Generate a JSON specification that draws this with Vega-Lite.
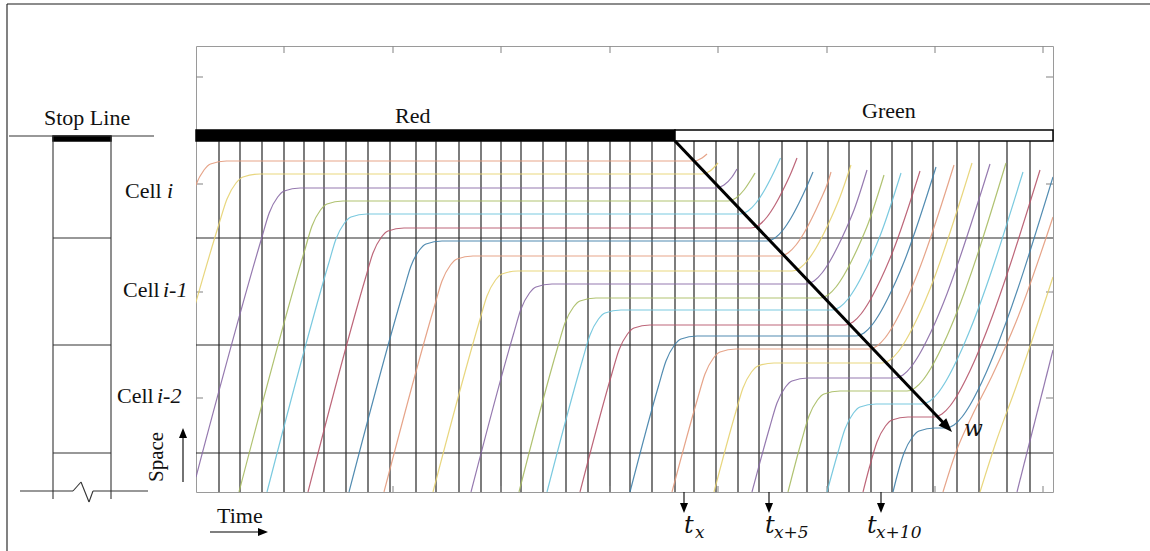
{
"$schema": "https://vega.github.io/schema/vega-lite/v6.json",
"width": 857, "height": 446,
"autosize": {"type": "none"},
"padding": {"left": 196, "top": 46, "right": 97, "bottom": 59},
"background": "white",
"config": {"view": {"stroke": "#9a9a9a", "strokeWidth": 1}},
"datasets": {
"bars": [
{"x": 0, "x2": 47.9, "y": 35.1, "y2": 36.2, "k": "red"},
{"x": 47.9, "x2": 85.7, "y": 35.1, "y2": 36.2, "k": "green"},
{"x": -14.3, "x2": -8.5, "y": 35.1, "y2": 35.6, "k": "stop"}
],
"segs": [
{"x":2.3,"x2":2.3,"y":0,"y2":35.1,"k":"v"},{"x":4.4,"x2":4.4,"y":0,"y2":35.1,"k":"v"},{"x":6.6,"x2":6.6,"y":0,"y2":35.1,"k":"v"},{"x":8.8,"x2":8.8,"y":0,"y2":35.1,"k":"v"},{"x":10.8,"x2":10.8,"y":0,"y2":35.1,"k":"v"},{"x":12.8,"x2":12.8,"y":0,"y2":35.1,"k":"v"},{"x":15.0,"x2":15.0,"y":0,"y2":35.1,"k":"v"},{"x":17.2,"x2":17.2,"y":0,"y2":35.1,"k":"v"},{"x":19.4,"x2":19.4,"y":0,"y2":35.1,"k":"v"},{"x":22.0,"x2":22.0,"y":0,"y2":35.1,"k":"v"},{"x":24.0,"x2":24.0,"y":0,"y2":35.1,"k":"v"},{"x":26.3,"x2":26.3,"y":0,"y2":35.1,"k":"v"},{"x":28.5,"x2":28.5,"y":0,"y2":35.1,"k":"v"},{"x":30.5,"x2":30.5,"y":0,"y2":35.1,"k":"v"},{"x":32.5,"x2":32.5,"y":0,"y2":35.1,"k":"v"},{"x":34.7,"x2":34.7,"y":0,"y2":35.1,"k":"v"},{"x":37.0,"x2":37.0,"y":0,"y2":35.1,"k":"v"},{"x":39.2,"x2":39.2,"y":0,"y2":35.1,"k":"v"},{"x":41.4,"x2":41.4,"y":0,"y2":35.1,"k":"v"},{"x":43.4,"x2":43.4,"y":0,"y2":35.1,"k":"v"},{"x":45.6,"x2":45.6,"y":0,"y2":35.1,"k":"v"},{"x":47.9,"x2":47.9,"y":0,"y2":35.1,"k":"v"},{"x":49.8,"x2":49.8,"y":0,"y2":35.1,"k":"v"},{"x":52.0,"x2":52.0,"y":0,"y2":35.1,"k":"v"},{"x":54.2,"x2":54.2,"y":0,"y2":35.1,"k":"v"},{"x":56.3,"x2":56.3,"y":0,"y2":35.1,"k":"v"},{"x":58.6,"x2":58.6,"y":0,"y2":35.1,"k":"v"},{"x":61.1,"x2":61.1,"y":0,"y2":35.1,"k":"v"},{"x":63.2,"x2":63.2,"y":0,"y2":35.1,"k":"v"},{"x":65.3,"x2":65.3,"y":0,"y2":35.1,"k":"v"},{"x":67.5,"x2":67.5,"y":0,"y2":35.1,"k":"v"},{"x":69.6,"x2":69.6,"y":0,"y2":35.1,"k":"v"},{"x":71.6,"x2":71.6,"y":0,"y2":35.1,"k":"v"},{"x":73.7,"x2":73.7,"y":0,"y2":35.1,"k":"v"},{"x":76.1,"x2":76.1,"y":0,"y2":35.1,"k":"v"},{"x":78.3,"x2":78.3,"y":0,"y2":35.1,"k":"v"},{"x":81.1,"x2":81.1,"y":0,"y2":35.1,"k":"v"},{"x":83.4,"x2":83.4,"y":0,"y2":35.1,"k":"v"},
{"x":0,"x2":85.7,"y":3.9,"y2":3.9,"k":"h"},{"x":0,"x2":85.7,"y":14.7,"y2":14.7,"k":"h"},{"x":0,"x2":85.7,"y":25.4,"y2":25.4,"k":"h"},
{"x":8.8,"x2":8.8,"y":44.6,"y2":43.9,"k":"tick"},{"x":19.7,"x2":19.7,"y":44.6,"y2":43.9,"k":"tick"},{"x":30.5,"x2":30.5,"y":44.6,"y2":43.9,"k":"tick"},{"x":41.4,"x2":41.4,"y":44.6,"y2":43.9,"k":"tick"},{"x":52.2,"x2":52.2,"y":44.6,"y2":43.9,"k":"tick"},{"x":63.1,"x2":63.1,"y":44.6,"y2":43.9,"k":"tick"},{"x":73.9,"x2":73.9,"y":44.6,"y2":43.9,"k":"tick"},{"x":84.7,"x2":84.7,"y":44.6,"y2":43.9,"k":"tick"},
{"x":19.7,"x2":19.7,"y":0,"y2":0.6,"k":"tick"},{"x":30.5,"x2":30.5,"y":0,"y2":0.6,"k":"tick"},{"x":41.4,"x2":41.4,"y":0,"y2":0.6,"k":"tick"},{"x":52.2,"x2":52.2,"y":0,"y2":0.6,"k":"tick"},{"x":63.1,"x2":63.1,"y":0,"y2":0.6,"k":"tick"},{"x":73.9,"x2":73.9,"y":0,"y2":0.6,"k":"tick"},{"x":84.7,"x2":84.7,"y":0,"y2":0.6,"k":"tick"},
{"x":0,"x2":0.7,"y":41.5,"y2":41.5,"k":"tick"},{"x":0,"x2":0.7,"y":30.8,"y2":30.8,"k":"tick"},{"x":0,"x2":0.7,"y":20.0,"y2":20.0,"k":"tick"},{"x":0,"x2":0.7,"y":9.4,"y2":9.4,"k":"tick"},
{"x":85.0,"x2":85.7,"y":41.5,"y2":41.5,"k":"tick"},{"x":85.0,"x2":85.7,"y":30.8,"y2":30.8,"k":"tick"},{"x":85.0,"x2":85.7,"y":20.0,"y2":20.0,"k":"tick"},{"x":85.0,"x2":85.7,"y":9.4,"y2":9.4,"k":"tick"},
{"x":-18.7,"x2":-4.2,"y":35.6,"y2":35.6,"k":"diag"},
{"x":-14.3,"x2":-14.3,"y":35.6,"y2":-0.7,"k":"diag"},{"x":-8.5,"x2":-8.5,"y":35.6,"y2":-0.7,"k":"diag"},
{"x":-14.3,"x2":-8.5,"y":25.4,"y2":25.4,"k":"diag"},{"x":-14.3,"x2":-8.5,"y":14.7,"y2":14.7,"k":"diag"},{"x":-14.3,"x2":-8.5,"y":3.9,"y2":3.9,"k":"diag"},
{"x":-17.6,"x2":-12.3,"y":0.1,"y2":0.1,"k":"diag"},{"x":-12.3,"x2":-11.5,"y":0.1,"y2":1.0,"k":"diag"},{"x":-11.5,"x2":-10.7,"y":1.0,"y2":-1.0,"k":"diag"},{"x":-10.7,"x2":-10.3,"y":-1.0,"y2":0.1,"k":"diag"},{"x":-10.3,"x2":-4.8,"y":0.1,"y2":0.1,"k":"diag"},
{"x":-18.9,"x2":95.4,"y":48.8,"y2":48.8,"k":"frame"},{"x":-18.9,"x2":-18.9,"y":48.8,"y2":-5.9,"k":"frame"},
{"x":48.8,"x2":48.8,"y":0,"y2":-1.2,"k":"arrow"},{"x":57.3,"x2":57.3,"y":0,"y2":-1.2,"k":"arrow"},{"x":68.5,"x2":68.5,"y":0,"y2":-1.2,"k":"arrow"},
{"x":1.4,"x2":6.4,"y":-4.0,"y2":-4.0,"k":"arrow"},{"x":-1.3,"x2":-1.3,"y":1.0,"y2":5.6,"k":"arrow"},
{"x":47.9,"x2":74.9,"y":35.1,"y2":6.75,"k":"wave"}
],
"traj": [
{"v":0,"c":"orange","t":-1.5,"s":25.5},{"v":0,"c":"orange","t":-0.8,"s":28.1},{"v":0,"c":"orange","t":-0.05,"s":30.6},{"v":0,"c":"orange","t":0.8,"s":32.2},{"v":0,"c":"orange","t":1.45,"s":32.8},{"v":0,"c":"orange","t":3.05,"s":33.1},{"v":0,"c":"orange","t":49.8,"s":33.1},{"v":0,"c":"orange","t":50.6,"s":33.4},{"v":0,"c":"orange","t":51.1,"s":33.8},
{"v":1,"c":"yellow","t":-0.6,"s":16.9},{"v":1,"c":"yellow","t":2.3,"s":26.8},{"v":1,"c":"yellow","t":3.1,"s":29.3},{"v":1,"c":"yellow","t":4.0,"s":30.9},{"v":1,"c":"yellow","t":4.7,"s":31.5},{"v":1,"c":"yellow","t":6.4,"s":31.8},{"v":1,"c":"yellow","t":50.6,"s":31.8},{"v":1,"c":"yellow","t":51.4,"s":32.1},{"v":1,"c":"yellow","t":52.2,"s":32.9},
{"v":2,"c":"purple","t":0,"s":1.5},{"v":2,"c":"purple","t":6.57,"s":25.4},{"v":2,"c":"purple","t":7.32,"s":27.9},{"v":2,"c":"purple","t":8.17,"s":29.5},{"v":2,"c":"purple","t":8.82,"s":30.1},{"v":2,"c":"purple","t":10.42,"s":30.4},{"v":2,"c":"purple","t":52.0,"s":30.4},{"v":2,"c":"purple","t":52.8,"s":30.7},{"v":2,"c":"purple","t":53.6,"s":31.5},{"v":2,"c":"purple","t":54.1,"s":32.3},
{"v":3,"c":"olive","t":4.3,"s":0},{"v":3,"c":"olive","t":10.85,"s":24.1},{"v":3,"c":"olive","t":11.6,"s":26.6},{"v":3,"c":"olive","t":12.45,"s":28.2},{"v":3,"c":"olive","t":13.1,"s":28.8},{"v":3,"c":"olive","t":14.7,"s":29.1},{"v":3,"c":"olive","t":53.2,"s":29.1},{"v":3,"c":"olive","t":54.0,"s":29.4},{"v":3,"c":"olive","t":54.8,"s":30.2},{"v":3,"c":"olive","t":55.6,"s":31.4},{"v":3,"c":"olive","t":55.9,"s":31.9},
{"v":4,"c":"cyan","t":7.1,"s":0},{"v":4,"c":"cyan","t":13.25,"s":22.8},{"v":4,"c":"cyan","t":14.0,"s":25.3},{"v":4,"c":"cyan","t":14.85,"s":26.9},{"v":4,"c":"cyan","t":15.5,"s":27.5},{"v":4,"c":"cyan","t":17.1,"s":27.8},{"v":4,"c":"cyan","t":54.4,"s":27.8},{"v":4,"c":"cyan","t":55.2,"s":28.1},{"v":4,"c":"cyan","t":56.0,"s":28.9},{"v":4,"c":"cyan","t":56.8,"s":30.1},{"v":4,"c":"cyan","t":57.6,"s":31.6},{"v":4,"c":"cyan","t":58.45,"s":33.4},
{"v":5,"c":"red","t":11.2,"s":0},{"v":5,"c":"red","t":16.95,"s":21.4},{"v":5,"c":"red","t":17.7,"s":23.9},{"v":5,"c":"red","t":18.55,"s":25.5},{"v":5,"c":"red","t":19.2,"s":26.1},{"v":5,"c":"red","t":20.8,"s":26.4},{"v":5,"c":"red","t":55.5,"s":26.4},{"v":5,"c":"red","t":56.3,"s":26.7},{"v":5,"c":"red","t":57.1,"s":27.5},{"v":5,"c":"red","t":57.9,"s":28.7},{"v":5,"c":"red","t":58.7,"s":30.2},{"v":5,"c":"red","t":59.5,"s":31.9},{"v":5,"c":"red","t":60.1,"s":33.4},
{"v":6,"c":"blue","t":15.3,"s":0},{"v":6,"c":"blue","t":20.75,"s":20.1},{"v":6,"c":"blue","t":21.5,"s":22.6},{"v":6,"c":"blue","t":22.35,"s":24.2},{"v":6,"c":"blue","t":23.0,"s":24.8},{"v":6,"c":"blue","t":24.6,"s":25.1},{"v":6,"c":"blue","t":57.1,"s":25.1},{"v":6,"c":"blue","t":57.9,"s":25.4},{"v":6,"c":"blue","t":58.7,"s":26.2},{"v":6,"c":"blue","t":59.5,"s":27.4},{"v":6,"c":"blue","t":60.3,"s":28.9},{"v":6,"c":"blue","t":61.1,"s":30.6},{"v":6,"c":"blue","t":61.7,"s":32.0},
{"v":7,"c":"orange","t":18.8,"s":0},{"v":7,"c":"orange","t":23.85,"s":18.6},{"v":7,"c":"orange","t":24.6,"s":21.1},{"v":7,"c":"orange","t":25.45,"s":22.7},{"v":7,"c":"orange","t":26.1,"s":23.3},{"v":7,"c":"orange","t":27.7,"s":23.6},{"v":7,"c":"orange","t":58.4,"s":23.6},{"v":7,"c":"orange","t":59.2,"s":23.9},{"v":7,"c":"orange","t":60.0,"s":24.7},{"v":7,"c":"orange","t":60.8,"s":25.9},{"v":7,"c":"orange","t":61.6,"s":27.4},{"v":7,"c":"orange","t":62.4,"s":29.1},{"v":7,"c":"orange","t":63.2,"s":31.0},{"v":7,"c":"orange","t":63.5,"s":32.0},
{"v":8,"c":"yellow","t":23.7,"s":0},{"v":8,"c":"yellow","t":28.35,"s":17.1},{"v":8,"c":"yellow","t":29.1,"s":19.6},{"v":8,"c":"yellow","t":29.95,"s":21.2},{"v":8,"c":"yellow","t":30.6,"s":21.8},{"v":8,"c":"yellow","t":32.2,"s":22.1},{"v":8,"c":"yellow","t":59.6,"s":22.1},{"v":8,"c":"yellow","t":60.4,"s":22.4},{"v":8,"c":"yellow","t":61.2,"s":23.2},{"v":8,"c":"yellow","t":62.0,"s":24.4},{"v":8,"c":"yellow","t":62.8,"s":25.9},{"v":8,"c":"yellow","t":63.6,"s":27.6},{"v":8,"c":"yellow","t":64.4,"s":29.5},{"v":8,"c":"yellow","t":65.5,"s":32.7},
{"v":9,"c":"purple","t":27.5,"s":0},{"v":9,"c":"purple","t":31.75,"s":15.8},{"v":9,"c":"purple","t":32.5,"s":18.3},{"v":9,"c":"purple","t":33.35,"s":19.9},{"v":9,"c":"purple","t":34.0,"s":20.5},{"v":9,"c":"purple","t":35.6,"s":20.8},{"v":9,"c":"purple","t":61.0,"s":20.8},{"v":9,"c":"purple","t":61.8,"s":21.1},{"v":9,"c":"purple","t":62.6,"s":21.9},{"v":9,"c":"purple","t":63.4,"s":23.1},{"v":9,"c":"purple","t":64.2,"s":24.6},{"v":9,"c":"purple","t":65.0,"s":26.3},{"v":9,"c":"purple","t":65.8,"s":28.2},{"v":9,"c":"purple","t":67.1,"s":32.2},
{"v":10,"c":"olive","t":32.3,"s":0},{"v":10,"c":"olive","t":36.15,"s":14.4},{"v":10,"c":"olive","t":36.9,"s":16.9},{"v":10,"c":"olive","t":37.75,"s":18.5},{"v":10,"c":"olive","t":38.4,"s":19.1},{"v":10,"c":"olive","t":40.0,"s":19.4},{"v":10,"c":"olive","t":62.4,"s":19.4},{"v":10,"c":"olive","t":63.2,"s":19.7},{"v":10,"c":"olive","t":64.0,"s":20.5},{"v":10,"c":"olive","t":64.8,"s":21.7},{"v":10,"c":"olive","t":65.6,"s":23.2},{"v":10,"c":"olive","t":66.4,"s":24.9},{"v":10,"c":"olive","t":67.2,"s":26.8},{"v":10,"c":"olive","t":68.8,"s":31.7},
{"v":11,"c":"cyan","t":35.1,"s":0},{"v":11,"c":"cyan","t":38.65,"s":13.2},{"v":11,"c":"cyan","t":39.4,"s":15.7},{"v":11,"c":"cyan","t":40.25,"s":17.3},{"v":11,"c":"cyan","t":40.9,"s":17.9},{"v":11,"c":"cyan","t":42.5,"s":18.2},{"v":11,"c":"cyan","t":63.6,"s":18.2},{"v":11,"c":"cyan","t":64.4,"s":18.5},{"v":11,"c":"cyan","t":65.2,"s":19.3},{"v":11,"c":"cyan","t":66.0,"s":20.5},{"v":11,"c":"cyan","t":66.8,"s":22.0},{"v":11,"c":"cyan","t":67.6,"s":23.7},{"v":11,"c":"cyan","t":68.4,"s":25.6},{"v":11,"c":"cyan","t":70.5,"s":31.9},
{"v":12,"c":"red","t":38.4,"s":0},{"v":12,"c":"red","t":41.55,"s":11.7},{"v":12,"c":"red","t":42.3,"s":14.2},{"v":12,"c":"red","t":43.15,"s":15.8},{"v":12,"c":"red","t":43.8,"s":16.4},{"v":12,"c":"red","t":45.4,"s":16.7},{"v":12,"c":"red","t":64.9,"s":16.7},{"v":12,"c":"red","t":65.7,"s":17.0},{"v":12,"c":"red","t":66.5,"s":17.8},{"v":12,"c":"red","t":67.3,"s":19.0},{"v":12,"c":"red","t":68.1,"s":20.5},{"v":12,"c":"red","t":68.9,"s":22.2},{"v":12,"c":"red","t":69.7,"s":24.1},{"v":12,"c":"red","t":72.4,"s":32.1},
{"v":13,"c":"blue","t":43.4,"s":0},{"v":13,"c":"blue","t":46.25,"s":10.6},{"v":13,"c":"blue","t":47.0,"s":13.1},{"v":13,"c":"blue","t":47.85,"s":14.7},{"v":13,"c":"blue","t":48.5,"s":15.3},{"v":13,"c":"blue","t":50.1,"s":15.6},{"v":13,"c":"blue","t":66.0,"s":15.6},{"v":13,"c":"blue","t":66.8,"s":15.9},{"v":13,"c":"blue","t":67.6,"s":16.7},{"v":13,"c":"blue","t":68.4,"s":17.9},{"v":13,"c":"blue","t":69.2,"s":19.4},{"v":13,"c":"blue","t":70.0,"s":21.1},{"v":13,"c":"blue","t":70.8,"s":23.0},{"v":13,"c":"blue","t":74.0,"s":32.5},
{"v":14,"c":"orange","t":47.6,"s":0},{"v":14,"c":"orange","t":50.15,"s":9.3},{"v":14,"c":"orange","t":50.9,"s":11.8},{"v":14,"c":"orange","t":51.75,"s":13.4},{"v":14,"c":"orange","t":52.4,"s":14.0},{"v":14,"c":"orange","t":54.0,"s":14.3},{"v":14,"c":"orange","t":67.3,"s":14.3},{"v":14,"c":"orange","t":68.1,"s":14.6},{"v":14,"c":"orange","t":68.9,"s":15.4},{"v":14,"c":"orange","t":69.7,"s":16.6},{"v":14,"c":"orange","t":70.5,"s":18.1},{"v":14,"c":"orange","t":71.3,"s":19.8},{"v":14,"c":"orange","t":72.1,"s":21.7},{"v":14,"c":"orange","t":75.8,"s":32.7},
{"v":15,"c":"yellow","t":51.8,"s":0},{"v":15,"c":"yellow","t":53.95,"s":7.9},{"v":15,"c":"yellow","t":54.7,"s":10.4},{"v":15,"c":"yellow","t":55.55,"s":12.0},{"v":15,"c":"yellow","t":56.2,"s":12.6},{"v":15,"c":"yellow","t":57.8,"s":12.9},{"v":15,"c":"yellow","t":68.6,"s":12.9},{"v":15,"c":"yellow","t":69.4,"s":13.2},{"v":15,"c":"yellow","t":70.2,"s":14.0},{"v":15,"c":"yellow","t":71.0,"s":15.2},{"v":15,"c":"yellow","t":71.8,"s":16.7},{"v":15,"c":"yellow","t":72.6,"s":18.4},{"v":15,"c":"yellow","t":73.4,"s":20.3},{"v":15,"c":"yellow","t":77.6,"s":32.9},
{"v":16,"c":"purple","t":55.6,"s":0},{"v":16,"c":"purple","t":57.35,"s":6.4},{"v":16,"c":"purple","t":58.1,"s":8.9},{"v":16,"c":"purple","t":58.95,"s":10.5},{"v":16,"c":"purple","t":59.6,"s":11.1},{"v":16,"c":"purple","t":61.2,"s":11.4},{"v":16,"c":"purple","t":69.9,"s":11.4},{"v":16,"c":"purple","t":70.7,"s":11.7},{"v":16,"c":"purple","t":71.5,"s":12.5},{"v":16,"c":"purple","t":72.3,"s":13.7},{"v":16,"c":"purple","t":73.1,"s":15.2},{"v":16,"c":"purple","t":73.9,"s":16.9},{"v":16,"c":"purple","t":74.7,"s":18.8},{"v":16,"c":"purple","t":79.4,"s":32.8},
{"v":17,"c":"olive","t":59.2,"s":0},{"v":17,"c":"olive","t":60.55,"s":5.1},{"v":17,"c":"olive","t":61.3,"s":7.6},{"v":17,"c":"olive","t":62.15,"s":9.2},{"v":17,"c":"olive","t":62.8,"s":9.8},{"v":17,"c":"olive","t":64.4,"s":10.1},{"v":17,"c":"olive","t":71.1,"s":10.1},{"v":17,"c":"olive","t":71.9,"s":10.4},{"v":17,"c":"olive","t":72.7,"s":11.2},{"v":17,"c":"olive","t":73.5,"s":12.4},{"v":17,"c":"olive","t":74.3,"s":13.9},{"v":17,"c":"olive","t":75.1,"s":15.6},{"v":17,"c":"olive","t":75.9,"s":17.5},{"v":17,"c":"olive","t":81.0,"s":32.9},
{"v":18,"c":"cyan","t":63.1,"s":0},{"v":18,"c":"cyan","t":64.15,"s":3.8},{"v":18,"c":"cyan","t":64.9,"s":6.3},{"v":18,"c":"cyan","t":65.75,"s":7.9},{"v":18,"c":"cyan","t":66.4,"s":8.5},{"v":18,"c":"cyan","t":68.0,"s":8.8},{"v":18,"c":"cyan","t":72.6,"s":8.8},{"v":18,"c":"cyan","t":73.4,"s":9.1},{"v":18,"c":"cyan","t":74.2,"s":9.9},{"v":18,"c":"cyan","t":75.0,"s":11.1},{"v":18,"c":"cyan","t":75.8,"s":12.6},{"v":18,"c":"cyan","t":76.6,"s":14.3},{"v":18,"c":"cyan","t":77.4,"s":16.2},{"v":18,"c":"cyan","t":82.7,"s":32.0},
{"v":19,"c":"red","t":66.7,"s":0},{"v":19,"c":"red","t":67.35,"s":2.5},{"v":19,"c":"red","t":68.1,"s":5.0},{"v":19,"c":"red","t":68.95,"s":6.6},{"v":19,"c":"red","t":69.6,"s":7.2},{"v":19,"c":"red","t":71.2,"s":7.5},{"v":19,"c":"red","t":73.8,"s":7.5},{"v":19,"c":"red","t":74.6,"s":7.8},{"v":19,"c":"red","t":75.4,"s":8.6},{"v":19,"c":"red","t":76.2,"s":9.8},{"v":19,"c":"red","t":77.0,"s":11.3},{"v":19,"c":"red","t":77.8,"s":13.0},{"v":19,"c":"red","t":78.6,"s":14.9},{"v":19,"c":"red","t":84.4,"s":32.2},
{"v":20,"c":"blue","t":69.7,"s":0},{"v":20,"c":"blue","t":70.05,"s":1.4},{"v":20,"c":"blue","t":70.8,"s":3.9},{"v":20,"c":"blue","t":71.65,"s":5.5},{"v":20,"c":"blue","t":72.3,"s":6.1},{"v":20,"c":"blue","t":73.9,"s":6.4},{"v":20,"c":"blue","t":75.0,"s":6.4},{"v":20,"c":"blue","t":75.8,"s":6.7},{"v":20,"c":"blue","t":76.6,"s":7.5},{"v":20,"c":"blue","t":77.4,"s":8.7},{"v":20,"c":"blue","t":78.2,"s":10.2},{"v":20,"c":"blue","t":79.0,"s":11.9},{"v":20,"c":"blue","t":79.8,"s":13.8},{"v":20,"c":"blue","t":85.7,"s":31.5},
{"v":21,"c":"orange","t":74.7,"s":0},{"v":21,"c":"orange","t":76.0,"s":4.0},{"v":21,"c":"orange","t":77.6,"s":7.6},{"v":21,"c":"orange","t":79.6,"s":11.6},{"v":21,"c":"orange","t":82.0,"s":17.0},{"v":21,"c":"orange","t":85.7,"s":27.5},
{"v":22,"c":"yellow","t":78.4,"s":0},{"v":22,"c":"yellow","t":80.0,"s":5.0},{"v":22,"c":"yellow","t":82.0,"s":10.5},{"v":22,"c":"yellow","t":85.7,"s":21.5},
{"v":23,"c":"purple","t":82.1,"s":0},{"v":23,"c":"purple","t":85.7,"s":14.2}
],
"heads": [
{"x":48.8,"y":-2.1,"k":"down"},{"x":57.3,"y":-2.1,"k":"down"},{"x":68.5,"y":-2.1,"k":"down"},
{"x":7.2,"y":-4.0,"k":"right"},{"x":-1.3,"y":6.4,"k":"up"}
],
"whead": [{"x":75.6,"y":6.0,"k":"diag"}],
"labels": [
{"txt":"Stop Line","x":-15.2,"y":36.7,"k":"r"},
{"txt":"Red","x":19.9,"y":36.9,"k":"r"},
{"txt":"Green","x":66.6,"y":37.4,"k":"r"},
{"txt":"Cell","x":-7.1,"y":29.4,"k":"r"},
{"txt":"Cell","x":-7.3,"y":19.5,"k":"r"},
{"txt":"Cell","x":-7.9,"y":8.9,"k":"r"},
{"txt":"Time","x":2.1,"y":-3.1,"k":"r"},
{"txt":"i","x":-2.9,"y":29.4,"k":"i"},
{"txt":"i-1","x":-3.3,"y":19.5,"k":"i"},
{"txt":"i-2","x":-3.9,"y":8.9,"k":"i"},
{"txt":"w","x":76.8,"y":5.6,"k":"w"},
{"txt":"Space","x":-3.3,"y":1.0,"k":"sp"},
{"txt":"t","x":48.8,"y":-4.1,"k":"t"},{"txt":"t","x":56.9,"y":-4.1,"k":"t"},{"txt":"t","x":67.1,"y":-4.1,"k":"t"},
{"txt":"x","x":49.9,"y":-4.6,"k":"s"},{"txt":"x+5","x":57.8,"y":-4.6,"k":"s"},{"txt":"x+10","x":68.0,"y":-4.6,"k":"s"}
]
},
"layer": [
{
"data": {"name": "bars"},
"mark": {"type": "rect", "stroke": "black", "strokeWidth": 1.5},
"encoding": {
"x": {"field": "x", "type": "quantitative", "scale": {"domain": [0, 85.7], "nice": false, "zero": false}, "axis": null},
"x2": {"field": "x2"},
"y": {"field": "y", "type": "quantitative", "scale": {"domain": [0, 44.6], "nice": false, "zero": false}, "axis": null},
"y2": {"field": "y2"},
"fill": {"field": "k", "type": "nominal", "scale": {"domain": ["red", "green", "stop"], "range": ["#000000", "#ffffff", "#000000"]}, "legend": null}
}
},
{
"data": {"name": "segs"},
"transform": [{"filter": "datum.k !== 'wave'"}],
"mark": {"type": "rule"},
"encoding": {
"x": {"field": "x", "type": "quantitative", "scale": {"domain": [0, 85.7], "nice": false, "zero": false}, "axis": null},
"x2": {"field": "x2"},
"y": {"field": "y", "type": "quantitative", "scale": {"domain": [0, 44.6], "nice": false, "zero": false}, "axis": null},
"y2": {"field": "y2"},
"stroke": {"field": "k", "type": "nominal", "scale": {"domain": ["v", "h", "tick", "diag", "frame", "arrow", "wave"], "range": ["#111111", "#2a2a2a", "#8c8c8c", "#333333", "#1a1a1a", "#000000", "#000000"]}, "legend": null},
"strokeWidth": {"field": "k", "type": "nominal", "scale": {"domain": ["v", "h", "tick", "diag", "frame", "arrow", "wave"], "range": [1.1, 1.1, 1, 1.2, 2, 1.3, 3]}, "legend": null}
}
},
{
"data": {"name": "traj"},
"mark": {"type": "line", "interpolate": "monotone", "clip": true, "strokeWidth": 1.2, "opacity": 0.9},
"encoding": {
"x": {"field": "t", "type": "quantitative", "scale": {"domain": [0, 85.7], "nice": false, "zero": false}, "axis": null},
"y": {"field": "s", "type": "quantitative", "scale": {"domain": [0, 44.6], "nice": false, "zero": false}, "axis": null},
"detail": {"field": "v", "type": "nominal"},
"color": {"field": "c", "type": "nominal", "scale": {"domain": ["orange", "yellow", "purple", "olive", "cyan", "red", "blue"], "range": ["#e39a7c", "#e5d170", "#8a6aa6", "#a7bb62", "#6cc3dc", "#b6556a", "#3f7fa8"]}, "legend": null}
}
},
{
"data": {"name": "segs"},
"transform": [{"filter": "datum.k === 'wave'"}],
"mark": {"type": "rule", "color": "#000000", "strokeWidth": 3},
"encoding": {
"x": {"field": "x", "type": "quantitative", "scale": {"domain": [0, 85.7], "nice": false, "zero": false}, "axis": null},
"x2": {"field": "x2"},
"y": {"field": "y", "type": "quantitative", "scale": {"domain": [0, 44.6], "nice": false, "zero": false}, "axis": null},
"y2": {"field": "y2"}
}
},
{
"data": {"name": "heads"},
"mark": {"type": "point", "filled": true, "color": "#000000", "opacity": 1, "strokeWidth": 0, "size": 400},
"encoding": {
"x": {"field": "x", "type": "quantitative", "scale": {"domain": [0, 85.7], "nice": false, "zero": false}, "axis": null},
"y": {"field": "y", "type": "quantitative", "scale": {"domain": [0, 44.6], "nice": false, "zero": false}, "axis": null},
"shape": {"field": "k", "type": "nominal", "scale": {"domain": ["down", "right", "up", "diag"], "range": ["M0,0L-0.4,-1L0.4,-1Z", "M0,0L-1,-0.4L-1,0.4Z", "M0,0L-0.4,1L0.4,1Z", "M0,0L-0.96,-0.46L-0.41,-0.99Z"]}, "legend": null}
}
},
{
"data": {"name": "whead"},
"mark": {"type": "point", "filled": true, "color": "#000000", "opacity": 1, "strokeWidth": 0, "size": 784},
"encoding": {
"x": {"field": "x", "type": "quantitative", "scale": {"domain": [0, 85.7], "nice": false, "zero": false}, "axis": null},
"y": {"field": "y", "type": "quantitative", "scale": {"domain": [0, 44.6], "nice": false, "zero": false}, "axis": null},
"shape": {"field": "k", "type": "nominal", "scale": {"domain": ["down", "right", "up", "diag"], "range": ["M0,0L-0.4,-1L0.4,-1Z", "M0,0L-1,-0.4L-1,0.4Z", "M0,0L-0.4,1L0.4,1Z", "M0,0L-0.96,-0.46L-0.41,-0.99Z"]}, "legend": null}
}
},
{
"data": {"name": "labels"},
"transform": [{"filter": "datum.k === 'r'"}],
"mark": {"type": "text", "font": "Liberation Serif", "fontSize": 22, "align": "left", "baseline": "alphabetic", "color": "#111111"},
"encoding": {
"x": {"field": "x", "type": "quantitative", "scale": {"domain": [0, 85.7], "nice": false, "zero": false}, "axis": null},
"y": {"field": "y", "type": "quantitative", "scale": {"domain": [0, 44.6], "nice": false, "zero": false}, "axis": null},
"text": {"field": "txt"}
}
},
{
"data": {"name": "labels"},
"transform": [{"filter": "datum.k === 'i'"}],
"mark": {"type": "text", "font": "Liberation Serif", "fontSize": 22, "fontStyle": "italic", "align": "left", "baseline": "alphabetic", "color": "#111111"},
"encoding": {
"x": {"field": "x", "type": "quantitative", "scale": {"domain": [0, 85.7], "nice": false, "zero": false}, "axis": null},
"y": {"field": "y", "type": "quantitative", "scale": {"domain": [0, 44.6], "nice": false, "zero": false}, "axis": null},
"text": {"field": "txt"}
}
},
{
"data": {"name": "labels"},
"transform": [{"filter": "datum.k === 'w'"}],
"mark": {"type": "text", "font": "DejaVu Serif", "fontSize": 22, "fontStyle": "italic", "align": "left", "baseline": "alphabetic", "color": "#111111"},
"encoding": {
"x": {"field": "x", "type": "quantitative", "scale": {"domain": [0, 85.7], "nice": false, "zero": false}, "axis": null},
"y": {"field": "y", "type": "quantitative", "scale": {"domain": [0, 44.6], "nice": false, "zero": false}, "axis": null},
"text": {"field": "txt"}
}
},
{
"data": {"name": "labels"},
"transform": [{"filter": "datum.k === 'sp'"}],
"mark": {"type": "text", "font": "Liberation Serif", "fontSize": 21, "angle": 270, "align": "left", "baseline": "alphabetic", "color": "#111111"},
"encoding": {
"x": {"field": "x", "type": "quantitative", "scale": {"domain": [0, 85.7], "nice": false, "zero": false}, "axis": null},
"y": {"field": "y", "type": "quantitative", "scale": {"domain": [0, 44.6], "nice": false, "zero": false}, "axis": null},
"text": {"field": "txt"}
}
},
{
"data": {"name": "labels"},
"transform": [{"filter": "datum.k === 't'"}],
"mark": {"type": "text", "font": "DejaVu Serif", "fontSize": 24, "fontStyle": "italic", "align": "left", "baseline": "alphabetic", "color": "#111111"},
"encoding": {
"x": {"field": "x", "type": "quantitative", "scale": {"domain": [0, 85.7], "nice": false, "zero": false}, "axis": null},
"y": {"field": "y", "type": "quantitative", "scale": {"domain": [0, 44.6], "nice": false, "zero": false}, "axis": null},
"text": {"field": "txt"}
}
},
{
"data": {"name": "labels"},
"transform": [{"filter": "datum.k === 's'"}],
"mark": {"type": "text", "font": "DejaVu Serif", "fontSize": 17, "fontStyle": "italic", "align": "left", "baseline": "alphabetic", "color": "#111111"},
"encoding": {
"x": {"field": "x", "type": "quantitative", "scale": {"domain": [0, 85.7], "nice": false, "zero": false}, "axis": null},
"y": {"field": "y", "type": "quantitative", "scale": {"domain": [0, 44.6], "nice": false, "zero": false}, "axis": null},
"text": {"field": "txt"}
}
}
]
}
